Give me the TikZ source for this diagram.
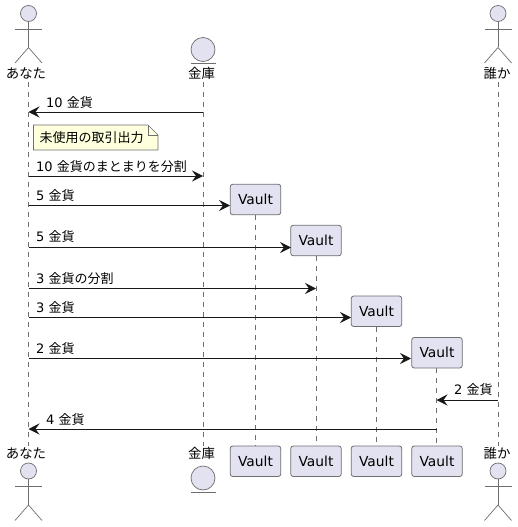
\documentclass[tikz,border=0pt]{standalone}
\usepackage{fontspec}
\usepackage{tikz}
\usetikzlibrary{arrows.meta}
\setmainfont{DejaVu Sans}
\newfontfamily\cjk{Noto Sans CJK JP}
\definecolor{ink}{HTML}{181818}
\definecolor{soft}{HTML}{6E6E72}
\definecolor{part}{HTML}{E2E2F0}
\definecolor{notefill}{HTML}{FEFFDD}
\tikzset{
  lifeline/.style={draw=soft,line width=0.6pt,dash pattern=on 5pt off 5pt},
  msg/.style={draw=ink,line width=1pt,-{Stealth[length=11pt,width=11pt,inset=4pt]}},
  msgtext/.style={anchor=west,inner sep=0pt,font=\fontsize{13}{14}\selectfont},
  partname/.style={inner sep=0pt,font=\fontsize{13.4}{14}\selectfont\cjk},
  figure/.style={draw=soft,line width=0.7pt},
  vaultbox/.style={draw=soft,line width=0.8pt,fill=part,rounded corners=2.5pt,
    minimum width=50.5pt,minimum height=30.5pt,inner sep=0pt,
    font=\fontsize{13.8}{14}\selectfont},
}
\begin{document}
\begin{tikzpicture}[x=1pt,y=-1pt]
  \useasboundingbox[fill=white] (0,0) rectangle (518,527);

  % lifelines first, boxes and names go on top
  \coordinate (youtop) at (28.5,82);
  \coordinate (youend) at (28.5,446);
  \coordinate (safetop) at (203,82);
  \coordinate (safeend) at (203,446);
  \coordinate (othertop) at (498,82);
  \coordinate (otherend) at (498,446);
  \coordinate (vaultAtop) at (255.5,215);
  \coordinate (vaultAend) at (255.5,446);
  \coordinate (vaultBtop) at (316,256);
  \coordinate (vaultBend) at (316,446);
  \coordinate (vaultCtop) at (376.5,326.5);
  \coordinate (vaultCend) at (376.5,446);
  \coordinate (vaultDtop) at (436.5,368);
  \coordinate (vaultDend) at (436.5,446);
  \foreach \line in {you,safe,other,vaultA,vaultB,vaultC,vaultD}
    \draw[lifeline] (\line top) -- (\line end);

  % participant names
  \node[partname,fill=white] (younameT) at (26,73) {あなた};
  \node[partname,fill=white] (safenameT) at (201.5,73) {金庫};
  \node[partname,fill=white] (othernameT) at (497,73) {誰か};
  \node[partname,fill=white] (younameB) at (26,453) {あなた};
  \node[partname,fill=white] (safenameB) at (201.5,453) {金庫};
  \node[partname,fill=white] (othernameB) at (497,453) {誰か};

  % stick figures
  \foreach \x/\y in {28.5/13.5,498/13.5,28.5/471,498/471}{
    \draw[figure,fill=part] (\x,\y) circle (8);
    \draw[figure] (\x,\y+8) -- (\x,\y+34);
    \draw[figure] (\x-13.5,\y+15.5) -- (\x+13.5,\y+15.5);
    \draw[figure] (\x-13.5,\y+49.5) -- (\x,\y+34) -- (\x+13.5,\y+49.5);
  }
  % entity
  \foreach \y in {49.5,478}{
    \draw[figure,fill=part] (203,\y) circle (12);
    \draw[figure] (191,\y+14) -- (216,\y+14);
  }

  % vault boxes
  \node[vaultbox] (vaultA) at (255.5,199.5) {Vault};
  \node[vaultbox] (vaultB) at (316,240.5) {Vault};
  \node[vaultbox] (vaultC) at (376.5,311.25) {Vault};
  \node[vaultbox] (vaultD) at (437,352.75) {Vault};
  \node[vaultbox] (vaultAB) at (255.5,461.25) {Vault};
  \node[vaultbox] (vaultBB) at (316,461.25) {Vault};
  \node[vaultbox] (vaultCB) at (376.5,461.25) {Vault};
  \node[vaultbox] (vaultDB) at (437,461.25) {Vault};

  % note
  \draw[draw=soft,line width=0.7pt,fill=notefill]
    (33.5,125) -- (148,125) -- (158,135) -- (158,150) -- (33.5,150) -- cycle;
  \draw[draw=soft,line width=0.7pt] (148,125) -- (148,135) -- (158,135);
  \node[msgtext,font=\fontsize{13}{14}\selectfont\cjk] (unspent) at (39.5,138) {未使用の取引出力};

  % messages
  \coordinate (m1a) at (203,112);
  \coordinate (m1b) at (28.5,112);
  \draw[msg] (m1a) -- (m1b);
  \node[msgtext] (t1) at (46,102.5) {10 {\cjk 金貨}};
  \coordinate (m2a) at (28.5,176);
  \coordinate (m2b) at (203,176);
  \draw[msg] (m2a) -- (m2b);
  \node[msgtext] (t2) at (36,167) {10 {\cjk 金貨のまとまりを分割}};
  \coordinate (m3a) at (28.5,205.5);
  \coordinate (m3b) at (230,205.5);
  \draw[msg] (m3a) -- (m3b);
  \node[msgtext] (t3) at (36,196) {5 {\cjk 金貨}};
  \coordinate (m4a) at (28.5,247.5);
  \coordinate (m4b) at (291,247.5);
  \draw[msg] (m4a) -- (m4b);
  \node[msgtext] (t4) at (36,237) {5 {\cjk 金貨}};
  \coordinate (m5a) at (28.5,288.5);
  \coordinate (m5b) at (316,288.5);
  \draw[msg] (m5a) -- (m5b);
  \node[msgtext] (t5) at (36,278.5) {3 {\cjk 金貨の分割}};
  \coordinate (m6a) at (28.5,317.5);
  \coordinate (m6b) at (351,317.5);
  \draw[msg] (m6a) -- (m6b);
  \node[msgtext] (t6) at (36,308) {3 {\cjk 金貨}};
  \coordinate (m7a) at (28.5,358.5);
  \coordinate (m7b) at (411,358.5);
  \draw[msg] (m7a) -- (m7b);
  \node[msgtext] (t7) at (36,349) {2 {\cjk 金貨}};
  \coordinate (m8a) at (498,400);
  \coordinate (m8b) at (436.5,400);
  \draw[msg] (m8a) -- (m8b);
  \node[msgtext] (t8) at (454,390) {2 {\cjk 金貨}};
  \coordinate (m9a) at (436.5,429);
  \coordinate (m9b) at (28.5,429);
  \draw[msg] (m9a) -- (m9b);
  \node[msgtext] (t9) at (46,419.5) {4 {\cjk 金貨}};
\end{tikzpicture}
\end{document}
